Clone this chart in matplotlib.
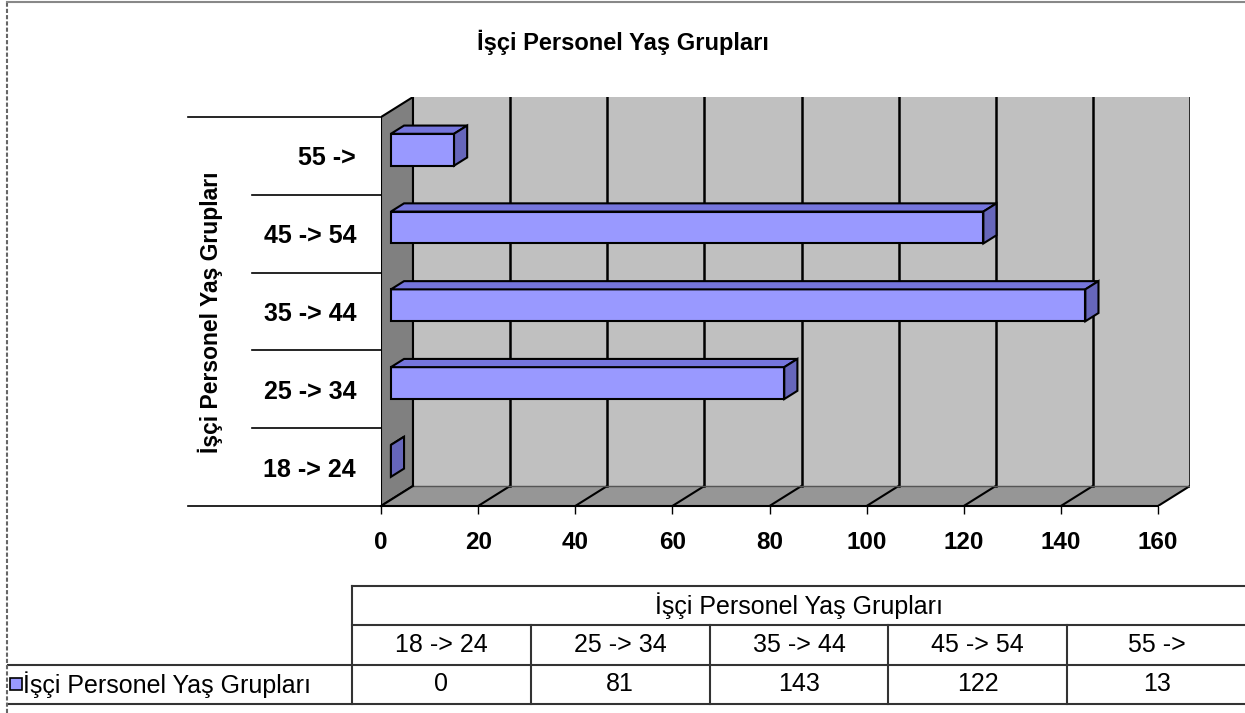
import matplotlib
matplotlib.use("Agg")
import matplotlib.pyplot as plt
from matplotlib.lines import Line2D
import matplotlib.transforms as mtransforms

plt.rcParams['font.family'] = ['Liberation Sans', 'DejaVu Sans']

# veriler
baslik = "İşçi Personel Yaş Grupları"
kategoriler = ["18 -> 24", "25 -> 34", "35 -> 44", "45 -> 54", "55 ->"]
degerler = [0, 81, 143, 122, 13]
x_ticks = [0, 20, 40, 60, 80, 100, 120, 140, 160]

W, H = 1245, 713
fig = plt.figure(figsize=(W / 100, H / 100), dpi=100)

XMAX = 160
DX = 32 / (777 / 160)   # derinlik (x birimi)
DY = 20 / 77.6          # derinlik (kategori birimi)

ax = fig.add_axes([381 / W, 1 - 506 / H, 809 / W, 409 / H])
ax.set_xlim(0, XMAX + DX)
ax.set_ylim(-0.5, 4.5 + DY)
for s in ax.spines.values():
    s.set_visible(False)
ax.patch.set_visible(False)

# duvarlar
n = len(kategoriler)
y0, y1 = -0.5, n - 0.5
ax.fill([0, DX, DX, 0], [y0, y0 + DY, y1 + DY, y1], color="#808080", ec="black", lw=1.5, zorder=1)
ax.fill([DX, XMAX + DX, XMAX + DX, DX], [y0 + DY, y0 + DY, y1 + DY, y1 + DY],
        color="#c0c0c0", ec="none", zorder=1)
ax.fill([0, XMAX, XMAX + DX, DX], [y0, y0, y0 + DY, y0 + DY], color="#969696", ec="none", zorder=1)
ax.plot([DX, DX], [y0 + DY, y1 + DY], color="black", lw=1.5, zorder=2)
for v in x_ticks[1:]:
    ax.plot([v + DX, v + DX], [y0 + DY, y1 + DY], color="black", lw=1.8, zorder=2)
    ax.plot([v, v + DX], [y0, y0 + DY], color="black", lw=1.5, zorder=2)
ax.plot([DX, XMAX + DX], [y0 + DY, y0 + DY], color="#555555", lw=1, zorder=2)
ax.plot([0, XMAX], [y0, y0], color="black", lw=1.5, zorder=3, clip_on=False)
ax.plot([0, DX], [y0, y0 + DY], color="black", lw=1.5, zorder=3)

# 3B çubuklar
f0, f1 = 0.31, 0.72
bh = 0.41
ex, ey = (f1 - f0) * DX, (f1 - f0) * DY
for i, v in enumerate(degerler):
    xa = f0 * DX
    xb = v + f0 * DX
    yb = i - bh / 2 + f0 * DY
    yt = i + bh / 2 + f0 * DY
    ax.fill([xa, xb, xb, xa], [yb, yb, yt, yt], color="#9999ff", ec="black", lw=1.5, zorder=4)
    ax.fill([xa, xb, xb + ex, xa + ex], [yt, yt, yt + ey, yt + ey], color="#7575dc",
            ec="black", lw=1.5, zorder=4)
    ax.fill([xb, xb + ex, xb + ex, xb], [yb, yb + ey, yt + ey, yt], color="#6666bb",
            ec="black", lw=1.5, zorder=4)

ax.set_xticks(x_ticks)
ax.set_xticklabels([str(t) for t in x_ticks], fontsize=17.5, fontweight="bold")
ax.tick_params(axis="x", length=6, width=1, pad=12, color="black")
ax.set_yticks(range(n))
ax.set_yticklabels(kategoriler, fontsize=18, fontweight="bold")
ax.tick_params(axis="y", length=0, pad=18)

# sol taraftaki kategori çizgileri
tr = mtransforms.blended_transform_factory(ax.transAxes, ax.transData)
for k in range(n + 1):
    yk = k - 0.5
    xl = (188 - 381) / 809 if k in (0, n) else (252 - 381) / 809
    ax.plot([xl, 0], [yk, yk], color="black", lw=1.2, transform=tr, clip_on=False)

ax.set_ylabel(baslik, fontsize=16.5, fontweight="bold")
ax.yaxis.set_label_coords((223 - 381) / 809, 0.474)

fig.text(623 / W, 1 - 42 / H, baslik, ha="center", va="center", fontsize=17, fontweight="bold")

# veri tablosu
LW = (352 - 8) / 178.75
tax = fig.add_axes([8 / W, 1 - 704 / H, (1246 - 8) / W, (704 - 586) / H])
tax.set_xlim(-LW, n)
tax.set_ylim(0, 3)
tax.axis("off")
lc = "#333333"
tax.plot([0, n], [3, 3], color=lc, lw=1.5, clip_on=False)
tax.plot([0, n], [2, 2], color=lc, lw=1.5, clip_on=False)
tax.plot([-LW, n], [1, 1], color=lc, lw=1.5, clip_on=False)
tax.plot([-LW, n], [0, 0], color=lc, lw=1.5, clip_on=False)
tax.plot([0, 0], [0, 3], color=lc, lw=1.5, clip_on=False)
for c in range(1, n):
    tax.plot([c, c], [0, 2], color=lc, lw=1.5, clip_on=False)
tax.text(n / 2, 2.5, baslik, ha="center", va="center", fontsize=18)
for c in range(n):
    tax.text(c + 0.5, 1.5, kategoriler[c], ha="center", va="center", fontsize=18)
    tax.text(c + 0.5, 0.5, str(degerler[c]), ha="center", va="center", fontsize=18)
tax.plot([-LW + 0.045], [0.5], marker="s", ms=8, mfc="#9999ff", mec="black", mew=1.2, clip_on=False)
tax.text(-LW + 0.085, 0.5, baslik, ha="left", va="center", fontsize=18)

# grafik alanı kenarlığı
fig.add_artist(Line2D([7 / W, 7 / W], [0, 1 - 2 / H], color="#666666", lw=1.5, ls=(0, (2, 1))))
fig.add_artist(Line2D([7 / W, 1], [1 - 2 / H, 1 - 2 / H], color="#888888", lw=1.5))

fig.savefig("out.png", dpi=100)
